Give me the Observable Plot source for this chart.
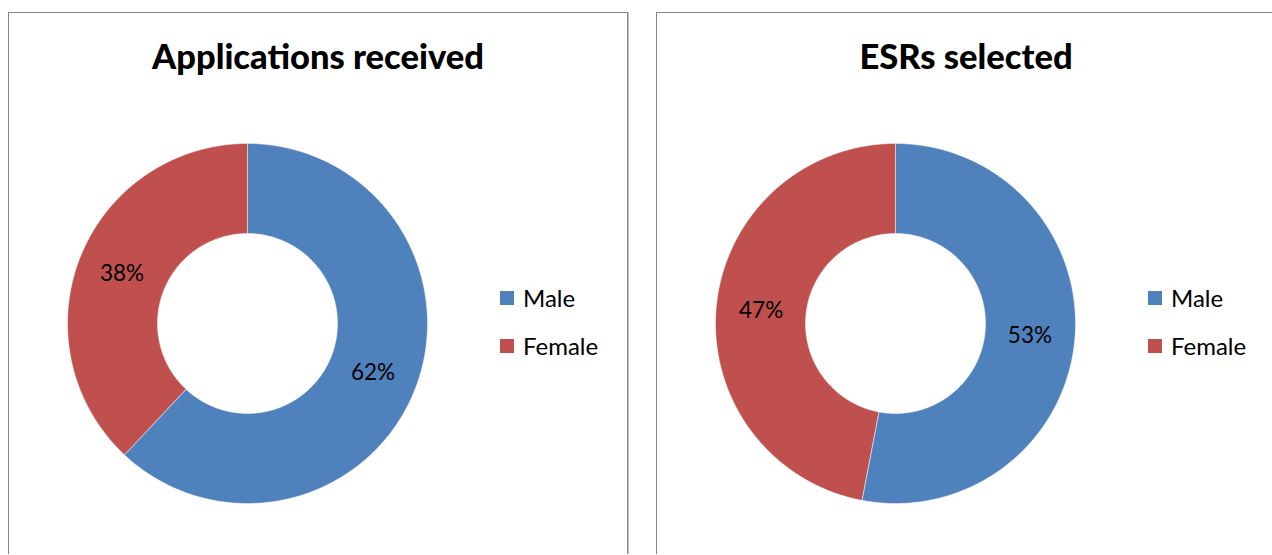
<!DOCTYPE html>
<html>
<head>
<meta charset="utf-8">
<script src="https://cdn.jsdelivr.net/npm/d3@7"></script>
<script src="https://cdn.jsdelivr.net/npm/@observablehq/plot@0.6"></script>
<style>
  html, body { margin: 0; padding: 0; background: #fff; }
  body { width: 1272px; height: 555px; position: relative; overflow: hidden; font-family: Lato, "Open Sans", sans-serif; color: #000; }
  .panel { position: absolute; top: 12px; width: 618px; height: 541px; border: 1px solid #868686; border-bottom: none; box-shadow: 1px 0 0 #c4c4c4; }
  .title { position: absolute; left: 0; width: 100%; top: 24px; text-align: center; font-weight: 900; font-size: 34.5px; line-height: 38px; white-space: nowrap; }
  .chart { position: absolute; top: 110px; }
  .legend { position: absolute; font-size: 24px; }
  .legend .item { position: absolute; left: 0; white-space: nowrap; height: 24px; line-height: 24px; }
  .legend .sw { position: absolute; left: 0; top: 5px; width: 14px; height: 14px; }
  .legend .lb { position: absolute; left: 23px; top: 0; }
</style>
</head>
<body>
<script>
// ---- data ----
const categories = ["Male", "Female"];
const colors = ["#4F81BD", "#C0504D"];
const chartTitles = ["Applications received", "ESRs selected"];
const applicationsPct = [62, 38];
const esrsPct = [53, 47];

const panels = [
  {title: chartTitles[0], values: applicationsPct, left: 8},
  {title: chartTitles[1], values: esrsPct, left: 656}
];

function donut(values) {
  const total = d3.sum(values);
  const inner = 0.5, outer = 1;
  const marks = [];
  let start = 0;
  const labels = [];
  values.forEach((v, i) => {
    const a0 = start / total * 2 * Math.PI;
    const a1 = (start + v) / total * 2 * Math.PI;
    start += v;
    const n = Math.max(2, Math.ceil((a1 - a0) / (Math.PI / 360)));
    const pts = [];
    for (let k = 0; k <= n; k++) {
      const a = a0 + (a1 - a0) * k / n;
      pts.push({x: outer * Math.sin(a), y: outer * Math.cos(a)});
    }
    for (let k = n; k >= 0; k--) {
      const a = a0 + (a1 - a0) * k / n;
      pts.push({x: inner * Math.sin(a), y: inner * Math.cos(a)});
    }
    marks.push(Plot.line(pts, {x: "x", y: "y", fill: colors[i], stroke: "#ffffff", strokeWidth: 0.8, strokeOpacity: 0.6, curve: "linear-closed"}));
    const am = (a0 + a1) / 2;
    const rm = (inner + outer) / 2;
    labels.push({x: rm * Math.sin(am), y: rm * Math.cos(am), text: Math.round(v / total * 100) + "%"});
  });
  marks.push(Plot.text(labels, {x: "x", y: "y", text: "text", fontSize: 22.5, fill: "#000", fontFamily: "Lato, sans-serif"}));
  return Plot.plot({
    width: 400, height: 400,
    margin: 20,
    x: {domain: [-1, 1], axis: null},
    y: {domain: [-1, 1], axis: null},
    style: {background: "transparent", overflow: "visible"},
    marks
  });
}

panels.forEach(p => {
  const div = document.createElement("div");
  div.className = "panel";
  div.style.left = p.left + "px";
  document.body.appendChild(div);

  const t = document.createElement("div");
  t.className = "title";
  t.textContent = p.title;
  div.appendChild(t);

  const c = document.createElement("div");
  c.className = "chart";
  c.style.left = "38px";
  c.appendChild(donut(p.values));
  div.appendChild(c);

  const lg = document.createElement("div");
  lg.className = "legend";
  lg.style.left = "491px";
  lg.style.top = "273px";
  categories.forEach((cat, i) => {
    const it = document.createElement("div");
    it.className = "item";
    it.style.top = (i * 48) + "px";
    it.innerHTML = `<span class="sw" style="background:${colors[i]}"></span><span class="lb">${cat}</span>`;
    lg.appendChild(it);
  });
  div.appendChild(lg);
});
</script>
</body>
</html>
